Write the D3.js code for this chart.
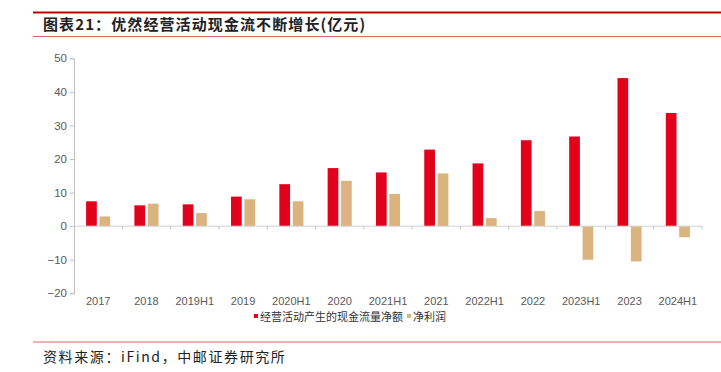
<!DOCTYPE html>
<html>
<head>
<meta charset="utf-8">
<script src="https://cdn.jsdelivr.net/npm/d3@7"></script>
<style>
  body { margin: 0; background: #fff; }
  svg { display: block; }
</style>
</head>
<body>
<div id="chart"></div>
<script>
// periods on the x axis
var periods = ["2017","2018","2019H1","2019","2020H1","2020","2021H1","2021","2022H1","2022","2023H1","2023","2024H1"];
// 经营活动产生的现金流量净额 (亿元)
var cashFlow = [7.4, 6.2, 6.5, 8.8, 12.5, 17.3, 16.0, 22.8, 18.7, 25.6, 26.7, 44.1, 33.7];
// 净利润 (亿元)
var netProfit = [2.9, 6.7, 3.9, 8.0, 7.4, 13.5, 9.6, 15.7, 2.4, 4.5, -10.0, -10.5, -3.3];
var seriesNames = ["经营活动产生的现金流量净额", "净利润"];
var seriesColors = ["#e2001a", "#dbb37f"];
var yTicks = [-20, -10, 0, 10, 20, 30, 40, 50];

var W = 721, H = 372;
var cjk = "'Noto Sans CJK SC', 'Noto Sans', sans-serif";
var latin = "'Liberation Sans', Arial, sans-serif";

var svg = d3.select("#chart").append("svg")
	.attr("width", W)
	.attr("height", H);

// header / footer rules
svg.append("line").attr("x1", 33).attr("x2", W).attr("y1", 12.5).attr("y2", 12.5)
	.attr("stroke", "#c00000").attr("stroke-width", 2);
svg.append("line").attr("x1", 33).attr("x2", W).attr("y1", 36.5).attr("y2", 36.5)
	.attr("stroke", "#e06666").attr("stroke-width", 1);
svg.append("line").attr("x1", 33).attr("x2", W).attr("y1", 342).attr("y2", 342)
	.attr("stroke", "#e06666").attr("stroke-width", 1);

svg.append("text")
	.attr("x", 43).attr("y", 30)
	.style("font-family", cjk).style("font-size", "15px").style("font-weight", "bold")
	.style("letter-spacing", "1.1px")
	.attr("fill", "#222")
	.text("图表21：优然经营活动现金流不断增长(亿元)");

svg.append("text")
	.attr("x", 43).attr("y", 362)
	.style("font-family", cjk).style("font-size", "14px")
	.style("letter-spacing", "1.6px")
	.attr("fill", "#222")
	.text("资料来源：iFind，中邮证券研究所");

// scales
var x0 = d3.scaleBand().domain(periods).range([74, 702]);
var x1 = d3.scaleBand().domain([0, 1]).range([0, 24.1]).paddingInner(0.2);
var y = d3.scaleLinear().domain([-20, 50]).range([293.3, 58.3]);
var groupOff = (x0.bandwidth() - 24.1) / 2;

// y axis
var yAxis = d3.axisLeft(y).tickValues(yTicks).tickSize(4).tickPadding(3);
var gy = svg.append("g").attr("transform", "translate(74,0)").call(yAxis);
gy.select(".domain").attr("stroke", "#bfbfbf");
gy.selectAll(".tick line").attr("stroke", "#bfbfbf");
gy.selectAll(".tick text").attr("fill", "#595959")
	.style("font-family", latin).style("font-size", "11.5px");

// bars
var rows = periods.map(function(p, i) { return { p: p, v: [cashFlow[i], netProfit[i]] }; });
var groups = svg.append("g").selectAll("g")
	.data(rows).enter().append("g")
	.attr("transform", function(d) { return "translate(" + (x0(d.p) + groupOff) + ",0)"; });
groups.selectAll("rect")
	.data(function(d) { return d.v.map(function(v, k) { return { k: k, v: v }; }); })
	.enter().append("rect")
	.attr("x", function(d) { return x1(d.k); })
	.attr("width", x1.bandwidth())
	.attr("y", function(d) { return y(Math.max(0, d.v)); })
	.attr("height", function(d) { return Math.abs(y(d.v) - y(0)); })
	.attr("fill", function(d) { return seriesColors[d.k]; });

// zero baseline with category ticks
var y0 = y(0);
svg.append("line").attr("x1", 74).attr("x2", 702).attr("y1", y0).attr("y2", y0)
	.attr("stroke", "#d0d0d0").attr("stroke-width", 1);
svg.append("g").selectAll("line")
	.data(periods.slice(1).concat(["end"])).enter().append("line")
	.attr("x1", function(d, i) { return 74 + x0.step() * (i + 1); })
	.attr("x2", function(d, i) { return 74 + x0.step() * (i + 1); })
	.attr("y1", y0).attr("y2", y0 + 3)
	.attr("stroke", "#bfbfbf");

// x labels
svg.append("g").selectAll("text")
	.data(periods).enter().append("text")
	.attr("x", function(d) { return x0(d) + x0.bandwidth() / 2; })
	.attr("y", 305)
	.attr("text-anchor", "middle")
	.attr("fill", "#595959")
	.style("font-family", latin).style("font-size", "11px")
	.text(function(d) { return d; });

// legend
var legend = svg.append("g");
var lx = [254, 407];
seriesNames.forEach(function(name, k) {
	legend.append("rect").attr("x", lx[k]).attr("y", 314).attr("width", 4).attr("height", 4)
		.attr("fill", seriesColors[k]);
	legend.append("text").attr("x", lx[k] + 6).attr("y", 321)
		.style("font-family", cjk).style("font-size", "11px")
		.attr("fill", "#333")
		.text(name);
});
</script>
</body>
</html>
